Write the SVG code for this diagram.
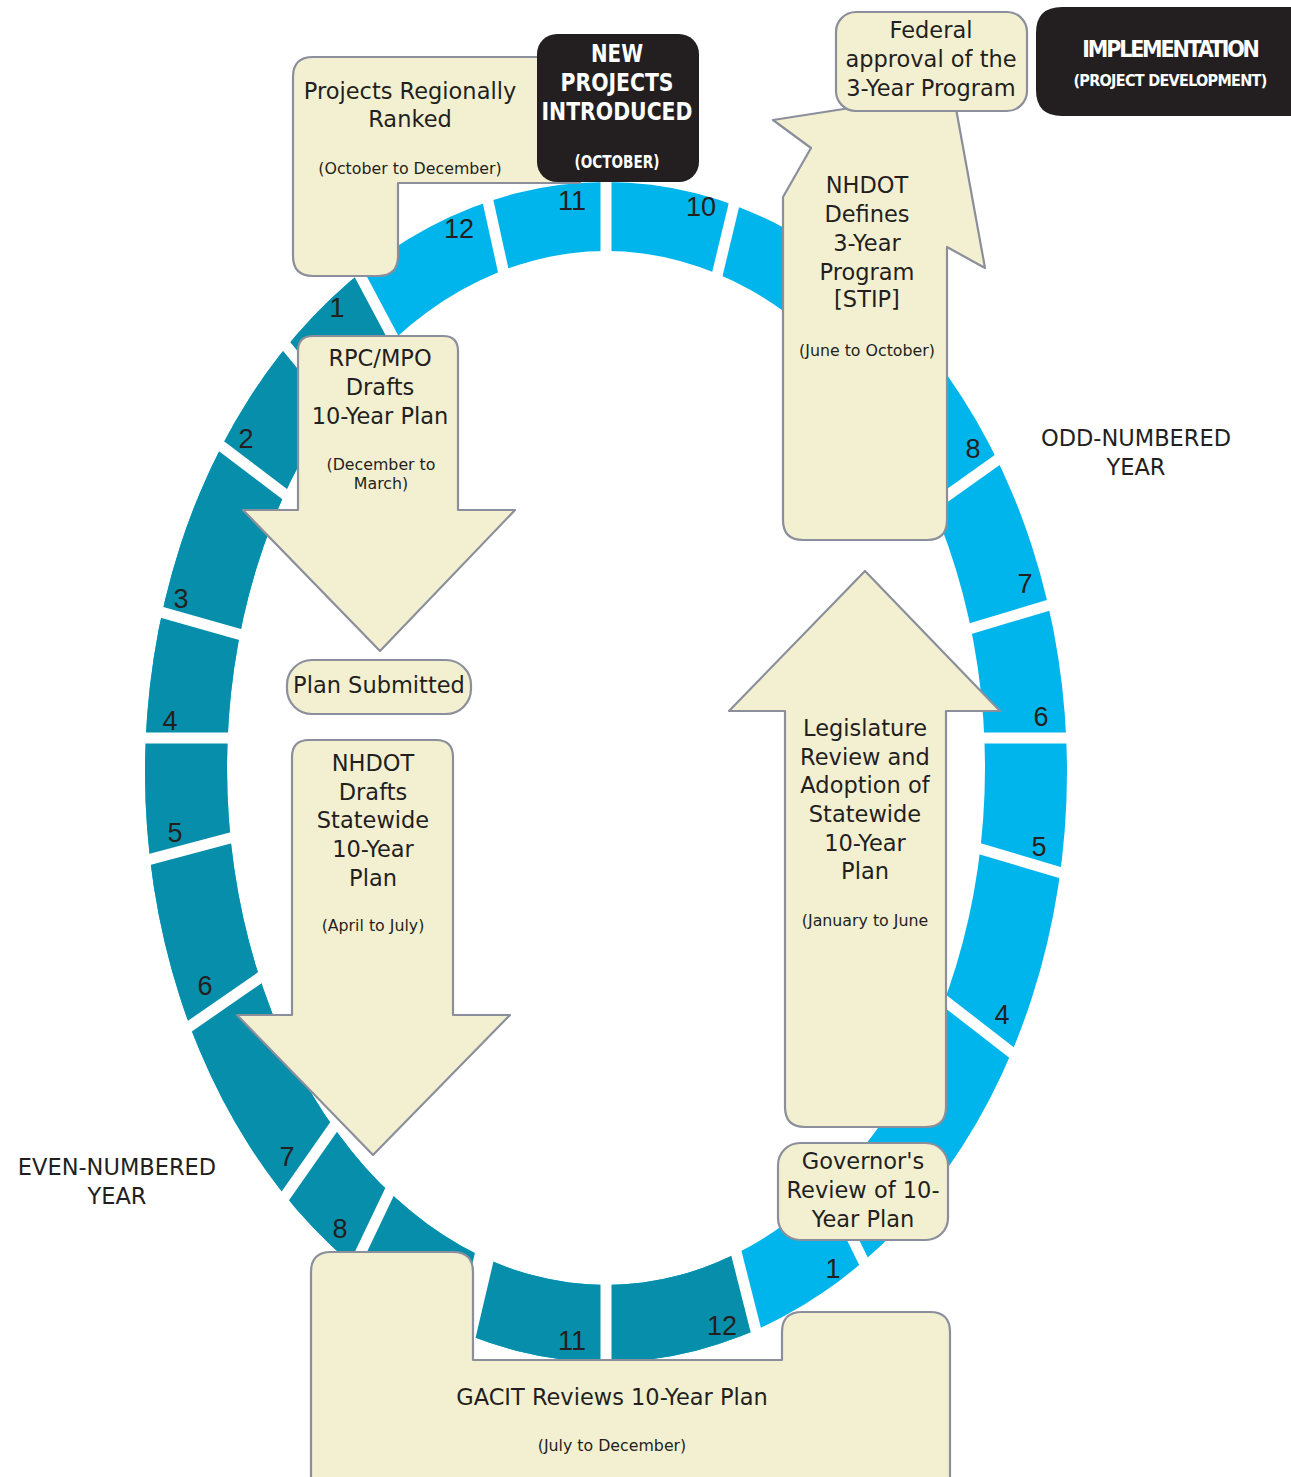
<svg xmlns="http://www.w3.org/2000/svg" width="1291" height="1477" viewBox="0 0 1291 1477">
<defs>
<style>
.box{fill:#F3F0D2;stroke:#8B8F9C;stroke-width:2.2;stroke-linejoin:round}
.blk{fill:#231F20}
.t{font-family:"DejaVu Sans",sans-serif;font-size:22.5px;fill:#231F20;text-anchor:middle}
.s{font-family:"DejaVu Sans",sans-serif;font-size:15.8px;fill:#231F20;text-anchor:middle}
.n{font-family:"Liberation Sans",sans-serif;font-size:27px;fill:#231F20;text-anchor:middle}
.w{font-family:"DejaVu Sans Condensed","DejaVu Sans",sans-serif;font-weight:bold;fill:#FFFFFF;text-anchor:middle}
.gap{stroke:#FFFFFF;stroke-width:11}
</style>
<clipPath id="darkClip"><polygon points="606,738 -333,-1028 -1394,-1028 -1394,2738 606,2738 1097,2677"/></clipPath>
</defs>
<rect width="1291" height="1477" fill="#FFFFFF"/>

<g id="ring">
<path id="ringLight" fill="#00B5EC" fill-rule="evenodd" d="M145,772 A461,590 0 1 0 1067,772 A461,590 0 1 0 145,772 Z M227,768 A379,517 0 1 1 985,768 A379,517 0 1 1 227,768 Z"/>
<path id="ringDark" fill="#078EAA" fill-rule="evenodd" clip-path="url(#darkClip)" d="M145,772 A461,590 0 1 0 1067,772 A461,590 0 1 0 145,772 Z M227,768 A379,517 0 1 1 985,768 A379,517 0 1 1 227,768 Z"/>
<g id="gaps" class="gap">
<line x1="606" y1="738" x2="769.4" y2="57.3"/>
<line x1="606" y1="738" x2="606" y2="38"/>
<line x1="606" y1="738" x2="455.7" y2="54.3"/>
<line x1="606" y1="738" x2="277.4" y2="120"/>
<line x1="606" y1="738" x2="163.6" y2="195.6"/>
<line x1="606" y1="738" x2="48.4" y2="314.8"/>
<line x1="606" y1="738" x2="-67.5" y2="547.4"/>
<line x1="606" y1="738" x2="-94" y2="738"/>
<line x1="606" y1="738" x2="-70.5" y2="918"/>
<line x1="606" y1="738" x2="30.5" y2="1136.5"/>
<line x1="606" y1="738" x2="204.5" y2="1311.4"/>
<line x1="606" y1="738" x2="304.7" y2="1369.8"/>
<line x1="606" y1="738" x2="446" y2="1420" style="stroke-width:20"/>
<line x1="606" y1="738" x2="606" y2="1438"/>
<line x1="606" y1="738" x2="777.7" y2="1416.6"/>
<line x1="606" y1="738" x2="915.1" y2="1366.1"/>
<line x1="606" y1="738" x2="1159.1" y2="1167"/>
<line x1="606" y1="738" x2="1277.2" y2="936.8"/>
<line x1="606" y1="738" x2="1306" y2="738"/>
<line x1="606" y1="738" x2="1276.5" y2="536.8"/>
<line x1="606" y1="738" x2="1176.6" y2="332.5"/>
<line x1="606" y1="738" x2="1007.5" y2="164.6"/>
</g>
</g>

<g id="month-labels">
<text class="n" x="459" y="238">12</text>
<text class="n" x="572" y="210">11</text>
<text class="n" x="701" y="216">10</text>
<text class="n" x="973" y="458">8</text>
<text class="n" x="1025" y="593">7</text>
<text class="n" x="1041" y="726">6</text>
<text class="n" x="1039" y="856">5</text>
<text class="n" x="1002" y="1024">4</text>
<text class="n" x="833" y="1278">1</text>
<text class="n" x="337" y="317">1</text>
<text class="n" x="246" y="448">2</text>
<text class="n" x="181" y="608">3</text>
<text class="n" x="170" y="730">4</text>
<text class="n" x="175" y="842">5</text>
<text class="n" x="205" y="995">6</text>
<text class="n" x="287" y="1166">7</text>
<text class="n" x="340" y="1238">8</text>
<text class="n" x="572" y="1350">11</text>
<text class="n" x="722" y="1335">12</text>
</g>

<g id="connectors"></g>

<g id="node-projects-ranked">
<path class="box" d="M313,57 L580,57 L580,183 L398,183 L398,256 Q398,276 378,276 L313,276 Q293,276 293,256 L293,77 Q293,57 313,57 Z"/>
<text class="t" x="410" y="99">Projects Regionally</text>
<text class="t" x="410" y="127">Ranked</text>
<text class="s" x="410" y="174">(October to December)</text>
</g>

<g id="node-new-projects">
<rect class="blk" x="537" y="34" width="162" height="148" rx="20"/>
<text class="w" x="617" y="62" font-size="25" textLength="52" lengthAdjust="spacingAndGlyphs">NEW</text>
<text class="w" x="617" y="91" font-size="25" textLength="113" lengthAdjust="spacingAndGlyphs">PROJECTS</text>
<text class="w" x="617" y="120" font-size="25" textLength="151" lengthAdjust="spacingAndGlyphs">INTRODUCED</text>
<text class="w" x="617" y="168" font-size="17" textLength="85" lengthAdjust="spacingAndGlyphs">(OCTOBER)</text>
</g>

<g id="node-nhdot-defines">
<path class="box" d="M783,197 L811,148 L773,120 L953,92 L985,268 L947,247 L947,520 Q947,540 927,540 L803,540 Q783,540 783,520 Z"/>
<text class="t" x="867" y="193">NHDOT</text>
<text class="t" x="867" y="222">Defines</text>
<text class="t" x="867" y="251">3-Year</text>
<text class="t" x="867" y="280">Program</text>
<text class="t" x="867" y="307">[STIP]</text>
<text class="s" x="867" y="356">(June to October)</text>
</g>

<g id="node-federal">
<rect class="box" x="836" y="12" width="191" height="99" rx="20"/>
<text class="t" x="931" y="38">Federal</text>
<text class="t" x="931" y="67">approval of the</text>
<text class="t" x="931" y="96">3-Year Program</text>
</g>

<g id="node-implementation">
<path class="blk" d="M1062,7 L1291,7 L1291,116 L1062,116 Q1036,116 1036,90 L1036,33 Q1036,7 1062,7 Z"/>
<text class="w" x="1170" y="57" font-size="23" letter-spacing="-2.2">IMPLEMENTATION</text>
<text class="w" x="1170" y="86" font-size="16" letter-spacing="-0.7">(PROJECT DEVELOPMENT)</text>
</g>

<g id="node-rpc-drafts">
<path class="box" d="M313,336 L443,336 Q458,336 458,351 L458,510 L515,510 L380,651 L243,510 L298,510 L298,351 Q298,336 313,336 Z"/>
<text class="t" x="380" y="366">RPC/MPO</text>
<text class="t" x="380" y="395">Drafts</text>
<text class="t" x="380" y="424">10-Year Plan</text>
<text class="s" x="381" y="470">(December to</text>
<text class="s" x="381" y="489">March)</text>
</g>

<g id="node-plan-submitted">
<rect class="box" x="287" y="660" width="184" height="54" rx="25"/>
<text class="t" x="379" y="693">Plan Submitted</text>
</g>

<g id="node-nhdot-drafts">
<path class="box" d="M309,740 L436,740 Q453,740 453,757 L453,1015 L510,1015 L373,1155 L237,1015 L292,1015 L292,757 Q292,740 309,740 Z"/>
<text class="t" x="373" y="771">NHDOT</text>
<text class="t" x="373" y="800">Drafts</text>
<text class="t" x="373" y="828">Statewide</text>
<text class="t" x="373" y="857">10-Year</text>
<text class="t" x="373" y="886">Plan</text>
<text class="s" x="373" y="931">(April to July)</text>
</g>

<g id="node-legislature">
<path class="box" d="M865,571 L1000,711 L946,711 L946,1107 Q946,1127 926,1127 L805,1127 Q785,1127 785,1107 L785,711 L729,711 Z"/>
<text class="t" x="865" y="736">Legislature</text>
<text class="t" x="865" y="765">Review and</text>
<text class="t" x="865" y="793">Adoption of</text>
<text class="t" x="865" y="822">Statewide</text>
<text class="t" x="865" y="851">10-Year</text>
<text class="t" x="865" y="879">Plan</text>
<text class="s" x="865" y="926">(January to June</text>
</g>

<g id="node-governor">
<rect class="box" x="778" y="1143" width="170" height="97" rx="22"/>
<text class="t" x="863" y="1169">Governor's</text>
<text class="t" x="863" y="1198">Review of 10-</text>
<text class="t" x="863" y="1227">Year Plan</text>
</g>

<g id="node-gacit">
<path class="box" d="M331,1252 L453,1252 Q473,1252 473,1272 L473,1360 L782,1360 L782,1332 Q782,1312 802,1312 L930,1312 Q950,1312 950,1332 L950,1500 L311,1500 L311,1272 Q311,1252 331,1252 Z"/>
<text class="t" x="612" y="1405">GACIT Reviews 10-Year Plan</text>
<text class="s" x="612" y="1451">(July to December)</text>
</g>

<g id="year-labels">
<text class="t" x="1136" y="446">ODD-NUMBERED</text>
<text class="t" x="1136" y="475">YEAR</text>
<text class="t" x="117" y="1175">EVEN-NUMBERED</text>
<text class="t" x="117" y="1204">YEAR</text>
</g>
</svg>
